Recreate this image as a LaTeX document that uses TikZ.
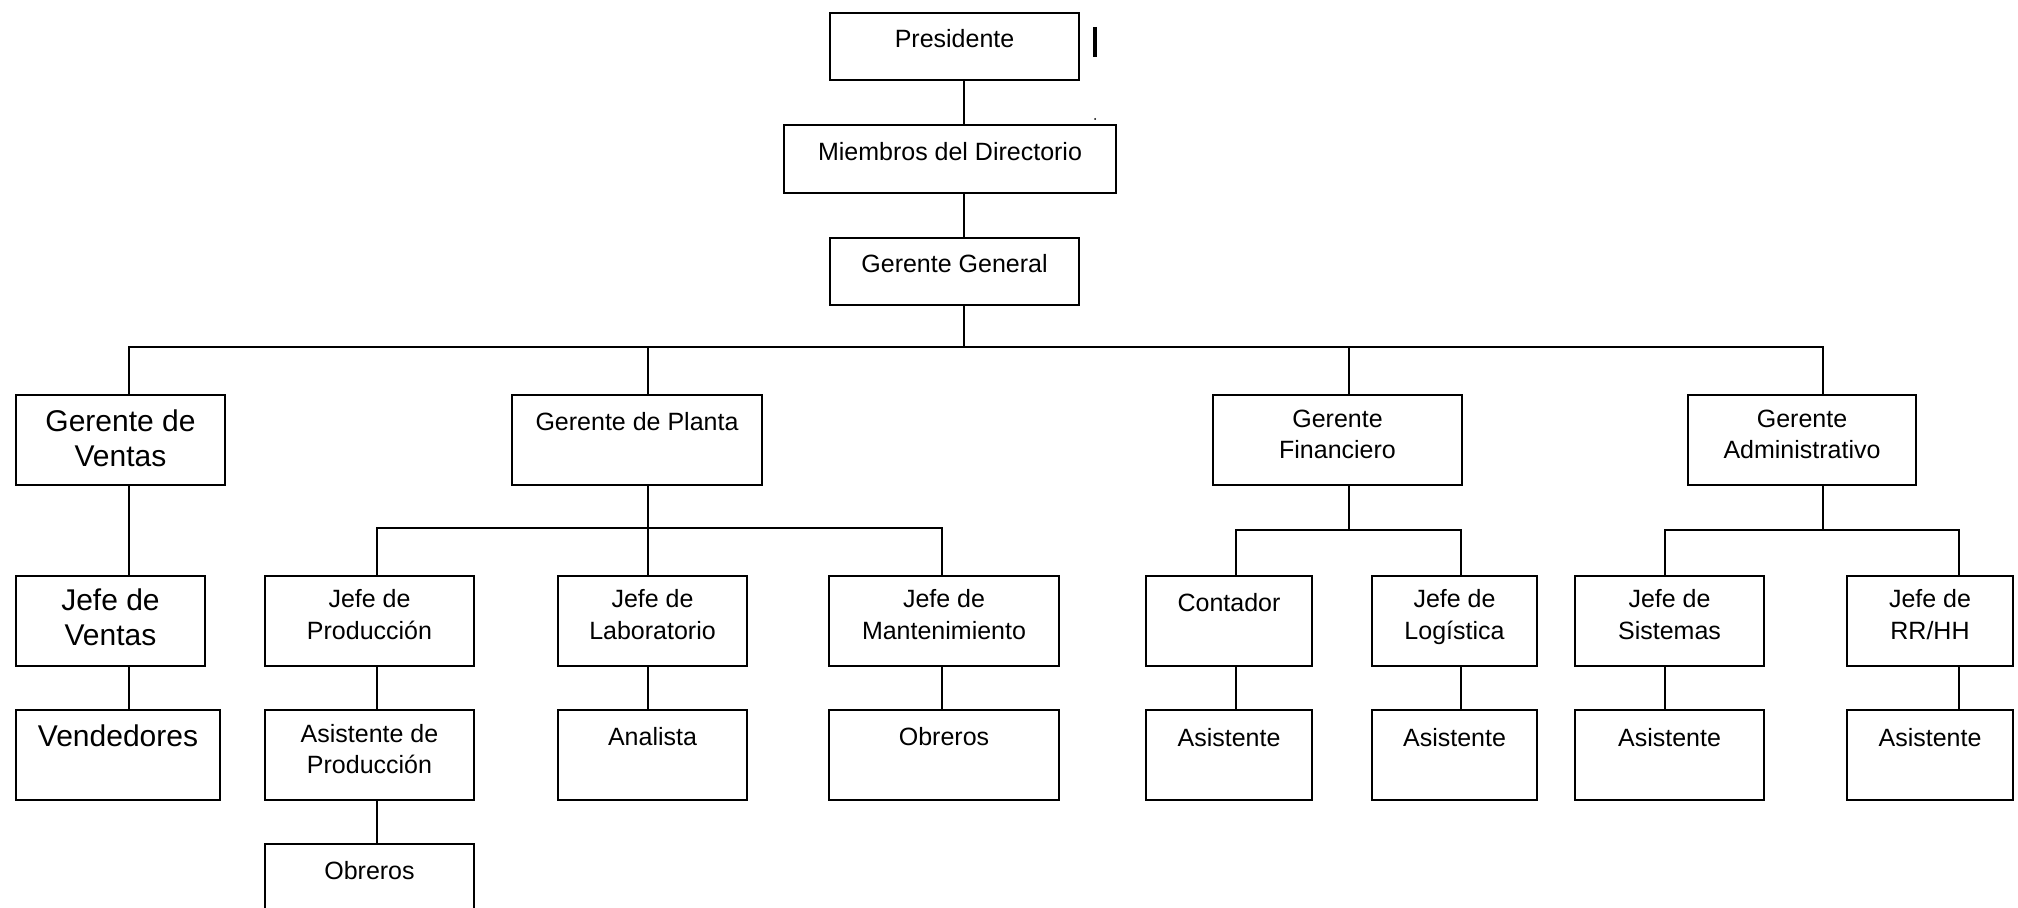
\documentclass[tikz,border=0pt]{standalone}
\usepackage{fontspec}
\setmainfont{Liberation Sans}
\usepackage{tikz}

\tikzset{
  cargo/.style={draw, line width=1pt, inner sep=0pt, anchor=north west,
    font=\fontsize{12.5}{15.5}\selectfont},
  cargogrande/.style={cargo, font=\fontsize{15}{17.5}\selectfont},
  linea/.style={line width=0.8pt}
}
% caja: [alto primera linea] ancho alto (en px) texto
\newcommand{\caja}[4][17.5pt]{\parbox[c][\dimexpr #3pt/2\relax][t]{\dimexpr #2pt/2\relax}{\centering\rule{0pt}{#1}#4}}

\begin{document}
\begin{tikzpicture}[x=0.5pt,y=-0.5pt]

\useasboundingbox (0,0) rectangle (2018,908);
\fill[white] (0,0) rectangle (2018,908);
\clip (0,0) rectangle (2018,908);

% Direccion
\node[cargo] (presi) at (829,12) {\caja{249}{67}{Presidente}};
\node[cargo] (miembros) at (783,124) {\caja[18pt]{332}{68}{Miembros del Directorio}};
\node[cargo] (general) at (829,237) {\caja{249}{67}{Gerente General}};
\draw[line width=2pt] (1095,27) -- (1095,57);
\fill (1095,119) circle (1);

% Gerentes
\node[cargogrande] (ventas) at (15,394) {\caja[18.4pt]{209}{90}{Gerente de\\Ventas}};
\node[cargo] (planta) at (511,394) {\caja[18pt]{250}{90}{Gerente de Planta}};
\node[cargo] (finanzas) at (1212,394) {\caja[16.5pt]{249}{90}{Gerente\\Financiero}};
\node[cargo] (admin) at (1687,394) {\caja[16.5pt]{228}{90}{Gerente\\Administrativo}};

% Jefes
\node[cargogrande] (jventas) at (15,575) {\caja[17pt]{189}{90}{Jefe de\\Ventas}};
\node[cargo] (jprod) at (264,575) {\caja[16pt]{209}{90}{Jefe de\\Producción}};
\node[cargo] (jlab) at (557,575) {\caja[16pt]{189}{90}{Jefe de\\Laboratorio}};
\node[cargo] (jmant) at (828,575) {\caja[16pt]{230}{90}{Jefe de\\Mantenimiento}};
\node[cargo] (contador) at (1145,575) {\caja{166}{90}{Contador}};
\node[cargo] (jlog) at (1371,575) {\caja[16pt]{165}{90}{Jefe de\\Logística}};
\node[cargo] (jsist) at (1574,575) {\caja[16pt]{189}{90}{Jefe de\\Sistemas}};
\node[cargo] (jrrhh) at (1846,575) {\caja[16pt]{166}{90}{Jefe de\\RR/HH}};

% Asistentes
\node[cargogrande] (vendedores) at (15,709) {\caja[18.4pt]{204}{90}{Vendedores}};
\node[cargo] (asisprod) at (264,709) {\caja[16pt]{209}{90}{Asistente de\\Producción}};
\node[cargo] (analista) at (557,709) {\caja{189}{90}{Analista}};
\node[cargo] (obrmant) at (828,709) {\caja{230}{90}{Obreros}};
\node[cargo] (asiscont) at (1145,709) {\caja[18pt]{166}{90}{Asistente}};
\node[cargo] (asislog) at (1371,709) {\caja[18pt]{165}{90}{Asistente}};
\node[cargo] (asissist) at (1574,709) {\caja[18pt]{189}{90}{Asistente}};
\node[cargo] (asisrrhh) at (1846,709) {\caja[18pt]{166}{90}{Asistente}};
\node[cargo] (obrprod) at (264,843) {\caja{209}{90}{Obreros}};

% Lineas de la direccion
\draw[linea] (964,0 |- presi.south) -- (964,0 |- miembros.north);
\draw[linea] (964,0 |- miembros.south) -- (964,0 |- general.north);
\draw[linea] (964,0 |- general.south) -- (964,347);
\draw[linea] (129,0 |- ventas.north) |- (1823,347) -- (1823,0 |- admin.north);
\draw[linea] (648,347) -- (648,0 |- planta.north);
\draw[linea] (1349,347) -- (1349,0 |- finanzas.north);

% Ventas
\draw[linea] (129,0 |- ventas.south) -- (129,0 |- jventas.north);
\draw[linea] (129,0 |- jventas.south) -- (129,0 |- vendedores.north);

% Planta
\draw[linea] (648,0 |- planta.south) -- (648,0 |- jlab.north);
\draw[linea] (377,0 |- jprod.north) |- (942,528) -- (942,0 |- jmant.north);
\draw[linea] (377,0 |- jprod.south) -- (377,0 |- asisprod.north);
\draw[linea] (377,0 |- asisprod.south) -- (377,0 |- obrprod.north);
\draw[linea] (648,0 |- jlab.south) -- (648,0 |- analista.north);
\draw[linea] (942,0 |- jmant.south) -- (942,0 |- obrmant.north);

% Financiero
\draw[linea] (1349,0 |- finanzas.south) -- (1349,530);
\draw[linea] (1236,0 |- contador.north) |- (1461,530) -- (1461,0 |- jlog.north);
\draw[linea] (1236,0 |- contador.south) -- (1236,0 |- asiscont.north);
\draw[linea] (1461,0 |- jlog.south) -- (1461,0 |- asislog.north);

% Administrativo
\draw[linea] (1823,0 |- admin.south) -- (1823,530);
\draw[linea] (1665,0 |- jsist.north) |- (1959,530) -- (1959,0 |- jrrhh.north);
\draw[linea] (1665,0 |- jsist.south) -- (1665,0 |- asissist.north);
\draw[linea] (1959,0 |- jrrhh.south) -- (1959,0 |- asisrrhh.north);

\end{tikzpicture}
\end{document}
